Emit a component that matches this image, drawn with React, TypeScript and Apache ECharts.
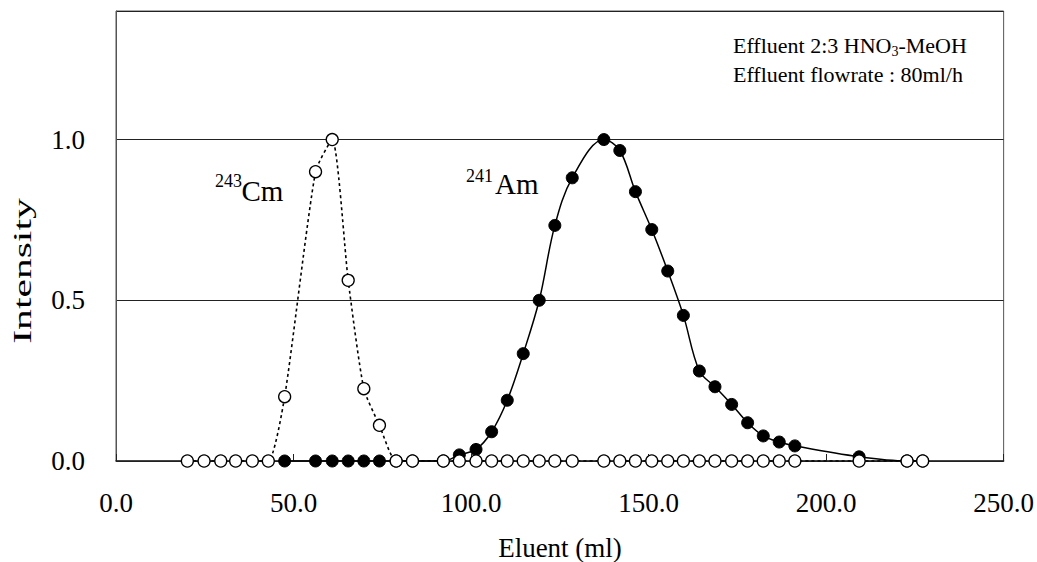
import React, { useEffect, useRef } from "react";
import * as echarts from "echarts";

const FONT = '"Liberation Serif", "Times New Roman", serif';

const xTicks = [0, 50, 100, 150, 200, 250];
const yTicks = [0, 0.5, 1.0];

// 241Am (filled circles)
const amX = [47.5, 56.2, 60.9, 65.4, 69.8, 74.2, 78.9, 83.5, 92.2, 96.7, 101.4, 105.8, 110.2, 114.7, 119.2, 123.6, 128.5, 137.4, 141.9, 146.3, 150.9, 155.4, 159.8, 164.3, 168.7, 173.4, 177.9, 182.3, 186.8, 191.2, 209.3, 222.8, 227.2];
const amY = [0, 0, 0, 0, 0, 0, 0, 0, 0, 0.019, 0.036, 0.091, 0.189, 0.334, 0.5, 0.733, 0.881, 1.0, 0.966, 0.838, 0.72, 0.591, 0.453, 0.28, 0.231, 0.176, 0.119, 0.078, 0.059, 0.047, 0.013, 0, 0];

// 243Cm (open circles)
const cmX = [20.1, 24.8, 29.5, 33.7, 38.4, 42.9, 47.5, 56.2, 60.9, 65.4, 69.8, 74.2, 78.9, 83.5, 92.2, 96.7, 101.4, 105.8, 110.2, 114.7, 119.2, 123.6, 128.5, 137.4, 141.9, 146.3, 150.9, 155.4, 159.8, 164.3, 168.7, 173.4, 177.9, 182.3, 186.8, 191.2, 209.3, 222.8, 227.2];
const cmY = [0, 0, 0, 0, 0, 0, 0.2, 0.9, 1.0, 0.562, 0.225, 0.111, 0, 0, 0, 0, 0, 0, 0, 0, 0, 0, 0, 0, 0, 0, 0, 0, 0, 0, 0, 0, 0, 0, 0, 0, 0, 0, 0];

const xName = "Eluent (ml)";
const yName = "Intensity";
const note1 = ["Effluent 2:3 HNO", "3", "-MeOH"];
const note2 = "Effluent flowrate : 80ml/h";

function measure(text: string, size: number): number {
  const c = document.createElement("canvas");
  const ctx = c.getContext("2d");
  if (!ctx) return text.length * size * 0.5;
  ctx.font = `${size}px ${FONT}`;
  return ctx.measureText(text).width;
}

export default function App() {
  const ref = useRef<HTMLDivElement>(null);
  useEffect(() => {
    if (!ref.current) return;
    const chart = echarts.init(ref.current, null, { renderer: "svg" });
    const w1 = measure(note1[0], 22);
    const w2 = measure(note1[1], 14);
    const option: any = {
      animation: false,
      backgroundColor: "#fff",
      grid: {
        left: 116,
        top: 11,
        width: 889,
        height: 450,
        show: true,
        borderColor: "#555",
        borderWidth: 1,
      },
      xAxis: {
        type: "value",
        min: xTicks[0],
        max: xTicks[xTicks.length - 1],
        interval: 50,
        axisLine: { show: true, onZero: false, lineStyle: { color: "#222", width: 1.5 } },
        axisTick: { show: true, inside: true, length: 7, lineStyle: { color: "#222" } },
        axisLabel: {
          formatter: (v: number) => v.toFixed(1),
          fontSize: 27,
          fontFamily: FONT,
          color: "#000",
          margin: 28,
        },
        splitLine: { show: false },
      },
      yAxis: {
        type: "value",
        min: 0,
        max: 1.4,
        interval: 0.5,
        axisLine: { show: true, lineStyle: { color: "#555" } },
        axisTick: { show: false },
        axisLabel: {
          formatter: (v: number) => (yTicks.some((t) => Math.abs(t - v) < 1e-6) ? v.toFixed(1) : ""),
          fontSize: 27,
          fontFamily: FONT,
          color: "#000",
          margin: 31,
        },
        splitLine: { show: true, lineStyle: { color: "#222", width: 1 } },
      },
      series: [
        {
          name: "241Am",
          type: "line",
          data: amX.map((x, i) => [x, amY[i]]),
          smooth: 0.35,
          symbol: "circle",
          symbolSize: 12,
          showAllSymbol: true,
          itemStyle: { color: "#000", borderColor: "#000", borderWidth: 1 },
          lineStyle: { color: "#000", width: 1.5, type: "solid" },
          z: 2,
        },
        {
          name: "243Cm",
          type: "line",
          data: cmX.map((x, i) => [x, cmY[i]]),
          smooth: 0.2,
          symbol: "circle",
          symbolSize: 12,
          showAllSymbol: true,
          itemStyle: { color: "#fff", borderColor: "#000", borderWidth: 1.3 },
          lineStyle: { color: "#000", width: 1.6, type: [3, 3] },
          z: 3,
        },
      ],
      graphic: [
        { type: "text", x: 215, y: 180.6, style: { text: "243", fontSize: 18, fontFamily: FONT, fill: "#000", align: "left", verticalAlign: "middle" } },
        { type: "text", x: 241.5, y: 191.2, style: { text: "Cm", fontSize: 29, fontFamily: FONT, fill: "#000", align: "left", verticalAlign: "middle" } },
        { type: "text", x: 466, y: 175.6, style: { text: "241", fontSize: 18, fontFamily: FONT, fill: "#000", align: "left", verticalAlign: "middle" } },
        { type: "text", x: 495, y: 184.2, style: { text: "Am", fontSize: 29, fontFamily: FONT, fill: "#000", align: "left", verticalAlign: "middle" } },
        { type: "text", x: 733, y: 45.6, style: { text: note1[0], fontSize: 22, fontFamily: FONT, fill: "#000", align: "left", verticalAlign: "middle" } },
        { type: "text", x: 733 + w1, y: 51, style: { text: note1[1], fontSize: 14, fontFamily: FONT, fill: "#000", align: "left", verticalAlign: "middle" } },
        { type: "text", x: 733 + w1 + w2, y: 45.6, style: { text: note1[2], fontSize: 22, fontFamily: FONT, fill: "#000", align: "left", verticalAlign: "middle" } },
        { type: "text", x: 733, y: 74.3, style: { text: note2, fontSize: 22, fontFamily: FONT, fill: "#000", align: "left", verticalAlign: "middle" } },
        { type: "text", x: 560, y: 548, style: { text: xName, fontSize: 27, fontFamily: FONT, fill: "#000", align: "center", verticalAlign: "middle" } },
        {
          type: "text",
          x: 22,
          y: 271,
          rotation: Math.PI / 2,
          scaleX: 1.6,
          style: { text: yName, fontSize: 26, fontFamily: FONT, fill: "#000", align: "center", verticalAlign: "middle" },
        },
      ],
    };
    chart.setOption(option);
    return () => chart.dispose();
  }, []);
  return <div ref={ref} style={{ position: "fixed", left: 0, top: 0, width: 1037, height: 562, background: "#fff" }} />;
}
